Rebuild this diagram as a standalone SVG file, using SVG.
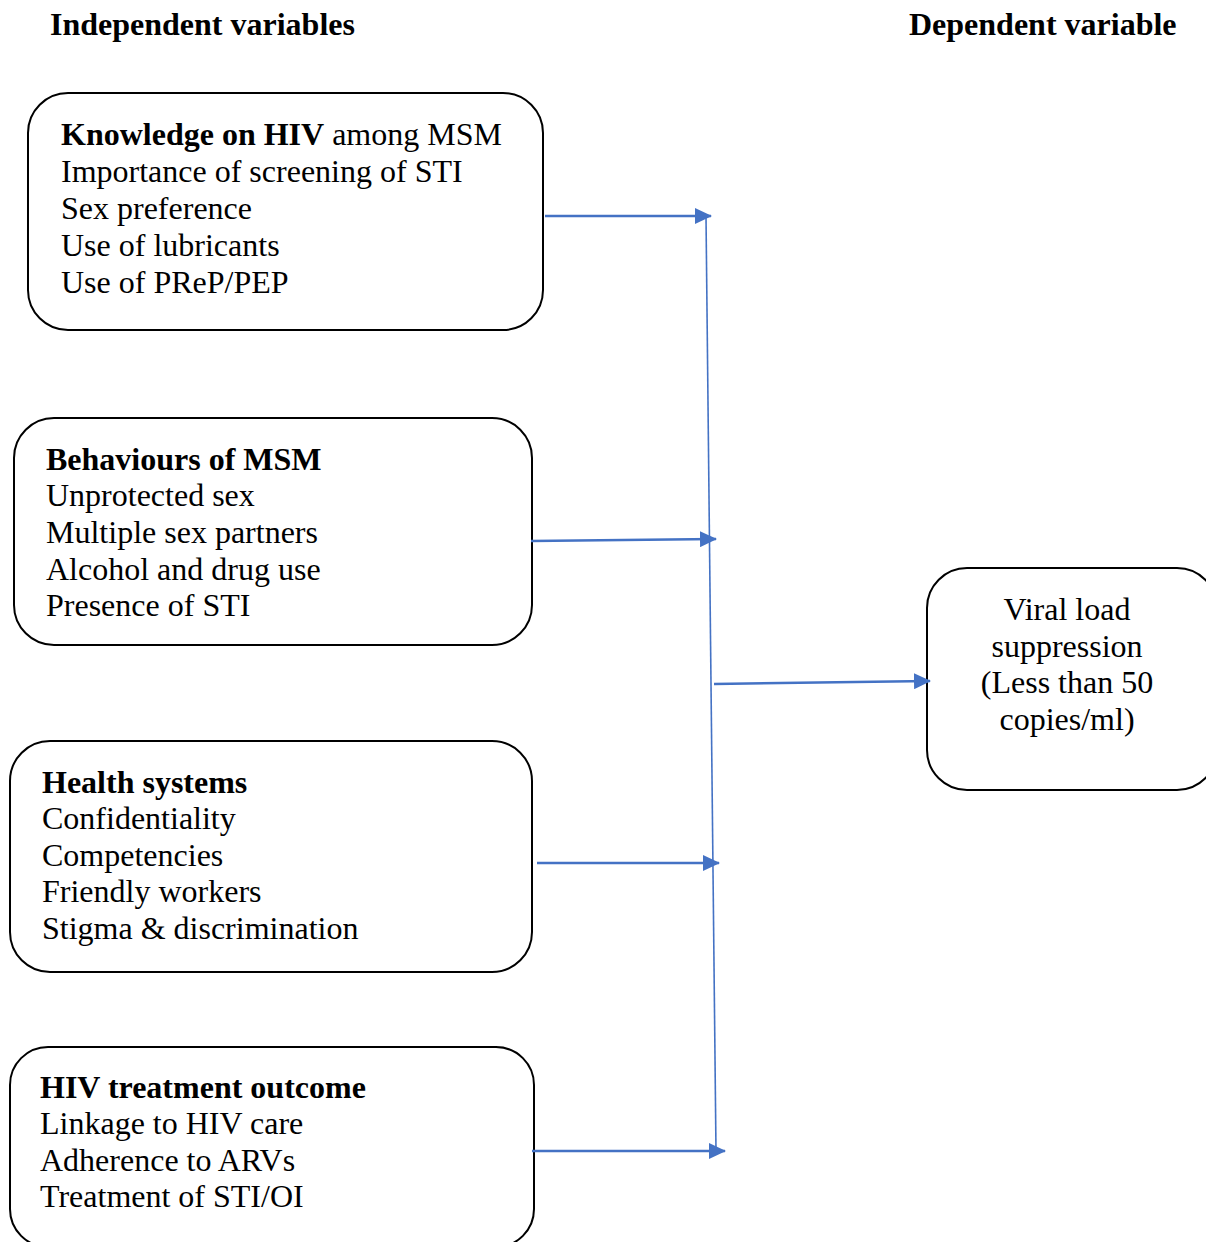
<svg xmlns="http://www.w3.org/2000/svg" width="1206" height="1242" viewBox="0 0 1206 1242">
<style>
text{font-family:"Liberation Serif","Times New Roman",serif;font-size:32px;fill:#000}
.b{font-weight:bold}
.box{fill:#fff;stroke:#000;stroke-width:2}
.ln{stroke:#4472C4;stroke-width:2.5;fill:none}
.vl{stroke:#4472C4;stroke-width:1.6;fill:none}
</style>
<defs>
<marker id="ah" markerWidth="17" markerHeight="16" refX="16" refY="8" orient="auto" markerUnits="userSpaceOnUse">
<path d="M0,0 L17,8 L0,16 Z" fill="#4472C4"/>
</marker>
</defs>
<rect width="1206" height="1242" fill="#fff"/>
<text class="b" x="50" y="35">Independent variables</text>
<text class="b" x="909" y="35">Dependent variable</text>
<g id="n1">
<rect class="box" x="28" y="93" width="515" height="237" rx="40"/>
<text x="61" y="145"><tspan class="b">Knowledge on HIV</tspan> among MSM</text>
<text x="61" y="182">Importance of screening of STI</text>
<text x="61" y="219">Sex preference</text>
<text x="61" y="256">Use of lubricants</text>
<text x="61" y="293">Use of PReP/PEP</text>
</g>
<g id="n2">
<rect class="box" x="14" y="418" width="518" height="227" rx="40"/>
<text class="b" x="46" y="470">Behaviours of MSM</text>
<text x="46" y="506">Unprotected sex</text>
<text x="46" y="543">Multiple sex partners</text>
<text x="46" y="580">Alcohol and drug use</text>
<text x="46" y="616">Presence of STI</text>
</g>
<g id="n3">
<rect class="box" x="10" y="741" width="522" height="231" rx="40"/>
<text class="b" x="42" y="793">Health systems</text>
<text x="42" y="829">Confidentiality</text>
<text x="42" y="866">Competencies</text>
<text x="42" y="902">Friendly workers</text>
<text x="42" y="939">Stigma &amp; discrimination</text>
</g>
<g id="n4">
<rect class="box" x="10" y="1047" width="524" height="200" rx="38"/>
<text class="b" x="40" y="1098">HIV treatment outcome</text>
<text x="40" y="1134">Linkage to HIV care</text>
<text x="40" y="1171">Adherence to ARVs</text>
<text x="40" y="1207">Treatment of STI/OI</text>
</g>
<g id="n5">
<rect class="box" x="927" y="568" width="290" height="222" rx="40"/>
<text x="1067" y="620" text-anchor="middle">Viral load</text>
<text x="1067" y="657" text-anchor="middle">suppression</text>
<text x="1067" y="693" text-anchor="middle">(Less than 50</text>
<text x="1067" y="730" text-anchor="middle">copies/ml)</text>
</g>
<g id="connectors">
<line class="vl" x1="706" y1="216" x2="716" y2="1151"/>
<line class="ln" x1="545" y1="216" x2="711" y2="216" marker-end="url(#ah)"/>
<line class="ln" x1="531" y1="541" x2="716" y2="539" marker-end="url(#ah)"/>
<line class="ln" x1="537" y1="863" x2="719" y2="863" marker-end="url(#ah)"/>
<line class="ln" x1="532" y1="1151" x2="725" y2="1151" marker-end="url(#ah)"/>
<line class="ln" x1="714" y1="684" x2="930" y2="681" marker-end="url(#ah)"/>
</g>
</svg>
